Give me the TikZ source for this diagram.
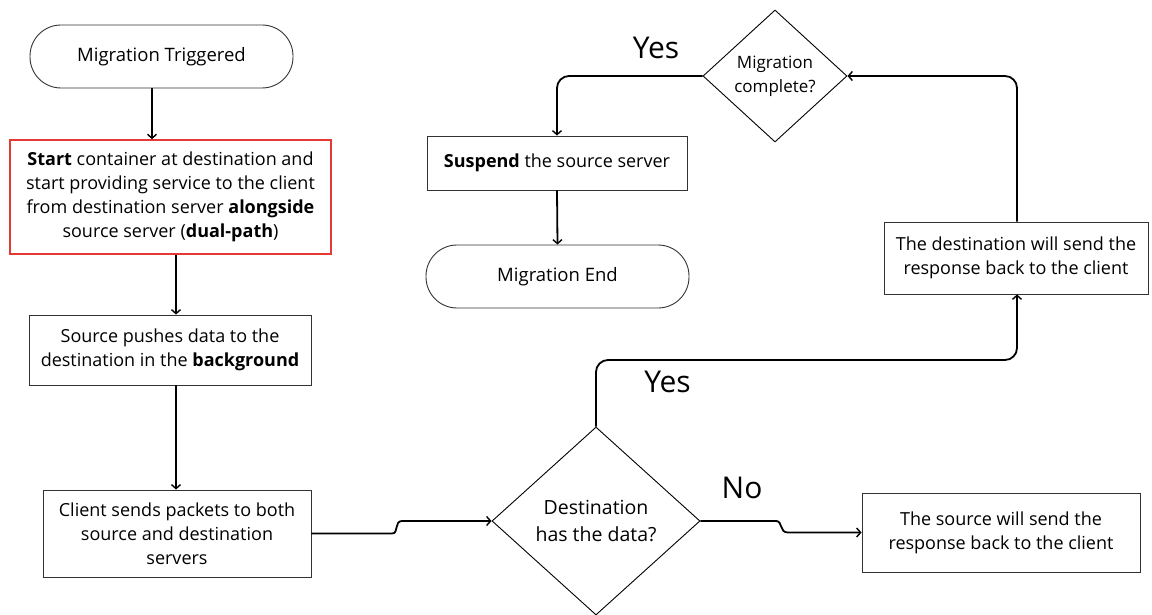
\documentclass[tikz,border=0pt]{standalone}
\usepackage{fontspec}
\setmainfont{Open Sans}
\usetikzlibrary{shapes.geometric,arrows.meta}
\definecolor{boxline}{HTML}{333333}
\definecolor{redline}{HTML}{E53935}
\begin{document}
\begin{tikzpicture}[x=1pt,y=-1pt,
  txt/.style={font=\fontsize{18}{24}\selectfont, align=center, inner sep=0pt},
  box/.style={txt, draw=boxline, line width=0.9pt},
  stadium/.style={box, rounded corners=31pt, font=\fontsize{18.5}{24}\selectfont},
  decision/.style={txt, draw=black, line width=0.9pt, shape=diamond, aspect=1},
  conn/.style={draw=black, line width=1.8pt, -{Straight Barb[length=4pt,width=9pt,line width=1.4pt]}},
  lbl/.style={font=\fontsize{30}{34}\selectfont, inner sep=0pt}]
\useasboundingbox (0,0) rectangle (1152,615);
\fill[white] (0,0) rectangle (1152,615);

% nodes
\node[stadium, minimum width=263pt, minimum height=63pt] (trig) at (161.5,56.5) {Migration Triggered};
\node[box, draw=redline, line width=1.6pt, minimum width=321pt, minimum height=114pt] (start) at (170.5,197) {\textbf{Start} container at destination and\\start providing service to the client\\from destination server \textbf{alongside}\\source server (\textbf{dual-path})};
\node[box, minimum width=282pt, minimum height=70pt] (push) at (170,350) {Source pushes data to the\\destination in the \textbf{background}};
\node[box, minimum width=268pt, minimum height=87pt] (client) at (177,533.5) {Client sends packets to both\\source and destination\\servers};
\node[decision, font=\fontsize{19.5}{27}\selectfont, minimum width=208pt, minimum height=188pt] (dest) at (596,521) {Destination\\has the data?};
\node[box, minimum width=278pt, minimum height=79pt] (srcresp) at (1001,532.5) {The source will send the\\response back to the client};
\node[box, minimum width=264pt, minimum height=72pt] (dstresp) at (1016,258) {The destination will send the\\response back to the client};
\node[decision, font=\fontsize{17}{24}\selectfont, minimum width=144pt, minimum height=132pt] (mc) at (775,76) {Migration\\complete?};
\node[box, minimum width=260pt, minimum height=54pt] (susp) at (557,163) {\textbf{Suspend} the source server};
\node[stadium, minimum width=263pt, minimum height=63pt] (mend) at (557.5,276.5) {Migration End};

% labels
\node[lbl] (yes1) at (656,47.5) {Yes};
\node[lbl] (no) at (742,487.5) {No};
\node[lbl] (yes2) at (667.5,381.5) {Yes};

% connectors
\draw[conn] (trig.south -| 152,0) -- (start.north -| 152,0);
\draw[conn] (start.south -| 176,0) -- (push.north -| 176,0);
\draw[conn] (push.south -| 176,0) -- (client.north -| 176,0);
\draw[conn] (client.east) -- (392,533.5) .. controls (399,533.5) and (394,521) .. (402,521) -- (dest.west);
\draw[conn] (dest.east) -- (776,521) .. controls (783,521) and (779,532.5) .. (788,532.5) -- (srcresp.west);
\draw[conn, rounded corners=12pt] (dest.north) -- (596,360) -- (1017,360) -- (dstresp.south -| 1017,0);
\draw[conn, rounded corners=12pt] (dstresp.north -| 1017,0) -- (1017,76) -- (mc.east);
\draw[conn, rounded corners=12pt] (mc.west) -- (557,76) -- (susp.north);
\draw[conn] (susp.south) -- (mend.north);
\end{tikzpicture}
\end{document}
